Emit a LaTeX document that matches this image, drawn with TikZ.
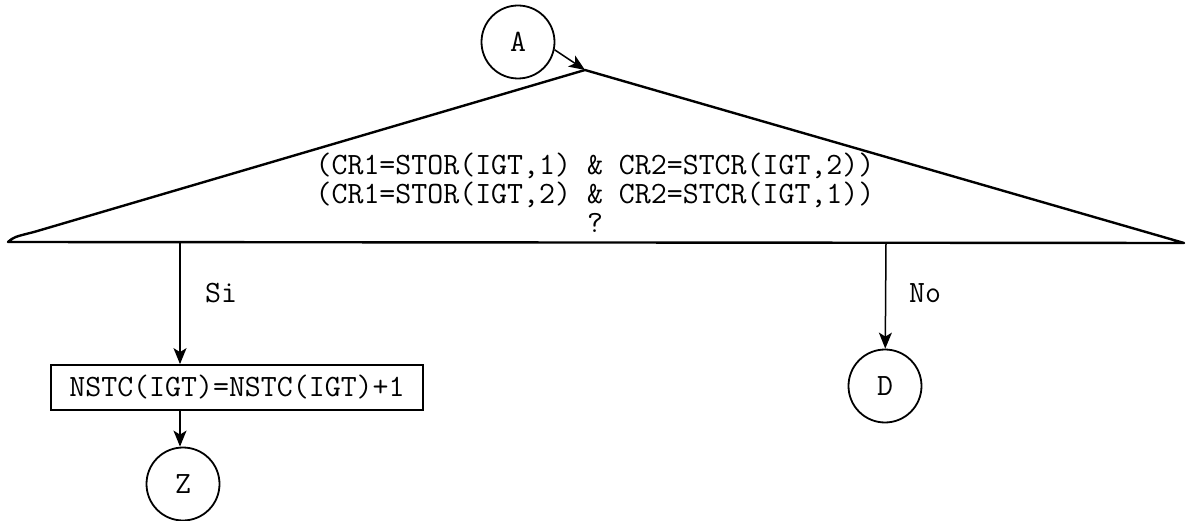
\documentclass[tikz,border=0pt]{standalone}
\usetikzlibrary{arrows.meta}
\begin{document}
\begin{tikzpicture}[x=1pt,y=-1pt,
  every node/.style={font=\ttfamily\fontsize{31}{29}\selectfont},
  conn/.style={circle,draw,line width=1.8pt,minimum size=73pt,inner sep=0pt},
  procbox/.style={draw,line width=1.8pt,minimum width=372pt,minimum height=45pt,inner sep=0pt},
  flow/.style={line width=1.5pt,-{Stealth[length=16pt,width=13pt,inset=4pt]}},
  edge/.style={line width=2.4pt,line join=round}]
\useasboundingbox (0,0) rectangle (1194,521);
% decision triangle
\coordinate (apex) at (585,70);
\coordinate (tl) at (8,242);
\coordinate (tr) at (1184,243);
\draw[edge] (tl) -- (tr) -- (apex) -- (34,232) .. controls (14,237) .. cycle;
\node[align=center,inner sep=0pt] (cond) at (595,193)
  {(CR1=STOR(IGT,1) \& CR2=STCR(IGT,2))\\
   (CR1=STOR(IGT,2) \& CR2=STCR(IGT,1))\\
   ?};
% entry connector
\node[conn] (A) at (518,42) {A};
\draw[flow] (A.-12) -- (apex);
% branches
\coordinate (bsi) at (180,242);
\coordinate (bno) at (886,243);
\node[procbox] (inc) at (237,387.5) {NSTC(IGT)=NSTC(IGT)+1};
\node[conn] (Z) at (183,484) {Z};
\node[conn] (D) at (885,386) {D};
\draw[flow] (bsi) -- (bsi |- inc.north);
\draw[flow] (bsi |- inc.south) -- (bsi |- Z.north);
\draw[flow] (bno) -- (D);
\node (si) at (221,293) {Si};
\node (no) at (925,293) {No};
\end{tikzpicture}
\end{document}
